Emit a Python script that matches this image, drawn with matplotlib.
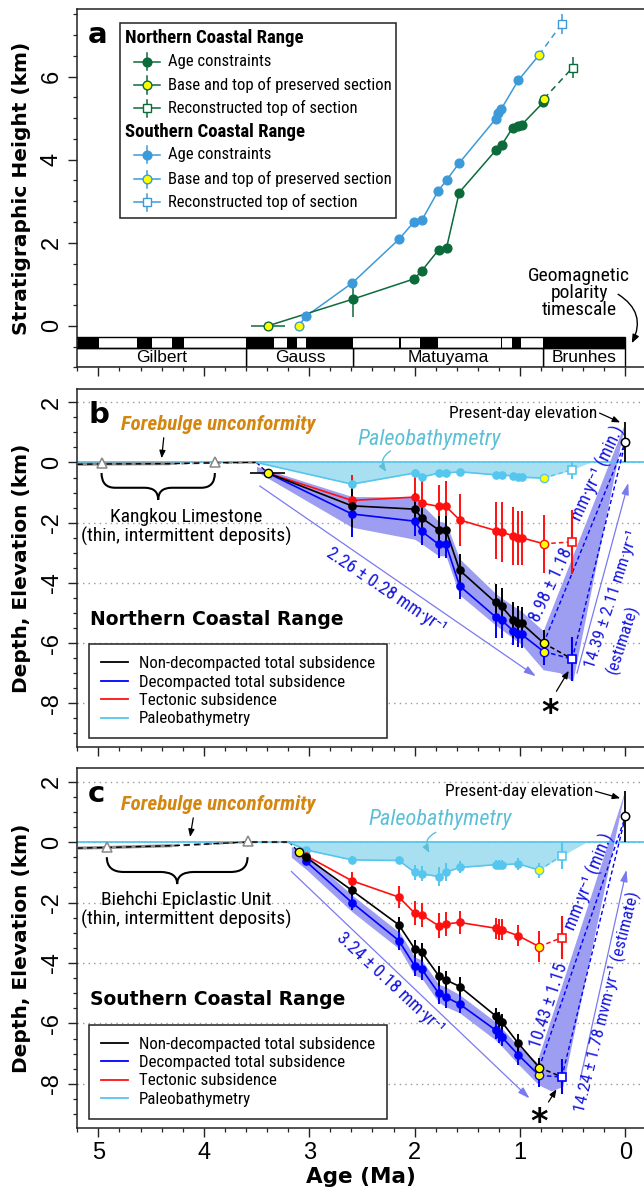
import numpy as np
import matplotlib
matplotlib.use('Agg')
import matplotlib.pyplot as plt
from matplotlib import font_manager as fm
from matplotlib.lines import Line2D
from matplotlib.patches import Rectangle, PathPatch
from matplotlib.path import Path


def pick_font(names):
    for n in names:
        try:
            fm.findfont(fm.FontProperties(family=n), fallback_to_default=False)
            return n
        except ValueError:
            pass
    return None


SANS = pick_font(['Liberation Sans']) or 'DejaVu Sans'
NARROW = pick_font(['Liberation Sans Narrow', 'Roboto Condensed', 'Open Sans Condensed'])
K = 1.0
if NARROW is None:  # no condensed face installed
    NARROW, K = SANS, 0.82
NF = [NARROW, 'DejaVu Sans']
BF = ['DejaVu Sans']

plt.rcParams['axes.unicode_minus'] = False
plt.rcParams['font.family'] = [SANS, 'DejaVu Sans']

# ---------------- panel a : stratigraphic height ----------------
ncr_age = [2.588, 2.004, 1.93, 1.772, 1.697, 1.577, 1.229, 1.175, 1.07, 1.023, 0.985, 0.78]
ncr_h = [0.64, 1.13, 1.33, 1.83, 1.88, 3.21, 4.23, 4.35, 4.77, 4.80, 4.84, 5.38]
ncr_herr = [0.42, 0, 0, 0, 0, 0, 0, 0, 0, 0, 0, 0]
ncr_ends_age = [3.39, 0.773]
ncr_ends_h = [0.0, 5.47]
ncr_base_xerr = 0.165
ncr_recon = (0.50, 6.22, 0.25)

scr_age = [3.031, 2.592, 2.146, 2.004, 1.93, 1.776, 1.697, 1.577, 1.232, 1.207, 1.181, 1.017]
scr_h = [0.23, 1.03, 2.09, 2.51, 2.55, 3.25, 3.51, 3.92, 4.98, 5.13, 5.21, 5.91]
scr_ends_age = [3.10, 0.82]
scr_ends_h = [0.0, 6.52]
scr_recon = (0.605, 7.27, 0.25)

# geomagnetic polarity timescale (normal chrons, Ma)
normal_start = [0.0, 0.988, 1.173, 1.778, 2.128, 2.581, 3.116, 3.330, 4.187, 4.493, 4.997]
normal_end = [0.781, 1.072, 1.185, 1.945, 2.148, 3.032, 3.207, 3.596, 4.300, 4.631, 5.235]
chron_names = ['Brunhes', 'Matuyama', 'Gauss', 'Gilbert']
chron_bounds = [0.0, 0.781, 2.581, 3.596, 6.033]

# ---------------- panel b : Northern Coastal Range ----------------
b_age = [2.595, 2.0, 1.934, 1.772, 1.703, 1.573, 1.232, 1.175, 1.064, 1.02, 0.985]
b_tot = [-1.44, -1.55, -1.84, -2.24, -2.24, -3.58, -4.65, -4.78, -5.23, -5.32, -5.34]
b_dec = [-1.71, -1.95, -2.28, -2.72, -2.72, -4.10, -5.13, -5.23, -5.60, -5.69, -5.71]
b_tec = [-1.26, -1.15, -1.35, -1.46, -1.46, -1.91, -2.26, -2.31, -2.44, -2.50, -2.50]
b_pb = [-0.72, -0.35, -0.49, -0.35, -0.35, -0.31, -0.41, -0.41, -0.45, -0.49, -0.49]
b_tot_err = [0.7, 0.55, 0.5, 0.45, 0.45, 0.55, 0.6, 0.6, 0.6, 0.55, 0.55]
b_dec_err = [0.75, 0.5, 0.45, 0.45, 0.45, 0.45, 0.7, 0.6, 0.45, 0.45, 0.45]
b_tec_err = [0.85, 0.72, 0.9, 0.7, 0.85, 0.85, 0.95, 1.0, 0.95, 0.9, 0.9]
b_pb_err = [0.15, 0.12, 0.12, 0.1, 0.1, 0.1, 0.1, 0.1, 0.1, 0.1, 0.1]
b_start = (3.394, -0.35, 0.165)
b_pb_zero = (3.50, 0.34)
b_top_age = 0.776
b_top = {'tot': (-6.0, 0.45), 'dec': (-6.28, 0.45), 'tec': (-2.70, 0.97), 'pb': (-0.52, 0.1)}
b_rec_age = 0.505
b_rec = {'dec': (-6.53, 0.72), 'tec': (-2.64, 1.05), 'pb': (-0.24, 0.3)}
b_present = (0.68, 0.68, 0.65)
b_env_age = [3.50, 2.595, 2.0, 1.934, 1.772, 1.703, 1.573, 1.232, 1.175, 0.985, 0.776]
b_env_top = [-0.13, -1.13, -1.15, -1.40, -1.95, -2.0, -3.2, -4.35, -4.5, -4.95, -5.6]
b_env_bot = [-0.30, -2.15, -2.55, -2.7, -3.1, -3.1, -4.4, -5.4, -5.55, -6.05, -6.9]
b_wedge_age = [0.776, 0.0, 0.495, 0.62, 0.776]
b_wedge_d = [-5.6, 1.31, -7.28, -7.0, -6.9]
b_forebulge_age = [5.2, 4.97, 4.32, 3.895, 3.5]
b_forebulge_d = [-0.06, -0.05, -0.04, -0.01, 0.0]
b_triangles = ([4.97, 3.895], [-0.02, 0.02])

# ---------------- panel c : Southern Coastal Range ----------------
c_age = [3.03, 2.595, 2.15, 2.0, 1.934, 1.772, 1.703, 1.573, 1.232, 1.197, 1.175, 1.017]
c_tot = [-0.50, -1.60, -2.74, -3.53, -3.64, -4.42, -4.56, -4.78, -5.75, -5.88, -5.94, -6.66]
c_dec = [-0.64, -2.0, -3.26, -4.09, -4.20, -5.0, -5.13, -5.36, -6.22, -6.35, -6.44, -7.04]
c_tec = [-0.45, -1.28, -1.82, -2.35, -2.41, -2.77, -2.71, -2.66, -2.85, -2.90, -2.90, -3.10]
c_pb = [-0.26, -0.59, -0.61, -1.0, -1.05, -1.14, -1.0, -0.84, -0.75, -0.75, -0.75, -0.72]
c_tot_err = [0.1, 0.2, 0.25, 0.3, 0.3, 0.33, 0.3, 0.3, 0.25, 0.25, 0.25, 0.3]
c_dec_err = [0.1, 0.25, 0.3, 0.35, 0.35, 0.35, 0.35, 0.3, 0.3, 0.3, 0.3, 0.35]
c_tec_err = [0.1, 0.3, 0.35, 0.4, 0.4, 0.42, 0.4, 0.38, 0.35, 0.35, 0.35, 0.35]
c_pb_err = [0.1, 0.12, 0.12, 0.25, 0.25, 0.3, 0.3, 0.2, 0.15, 0.15, 0.15, 0.2]
c_start = (3.10, -0.33, 0.0)
c_pb_zero = (3.20, 0.368)
c_top_age = 0.818
c_top = {'tot': (-7.46, 0.3), 'dec': (-7.72, 0.4), 'tec': (-3.46, 0.52), 'pb': (-0.93, 0.25)}
c_rec_age = 0.603
c_rec = {'dec': (-7.77, 0.58), 'tec': (-3.16, 0.72), 'pb': (-0.45, 0.45)}
c_present = (0.85, 0.85, 0.85)
c_env_age = [3.17, 3.03, 2.595, 2.14, 2.0, 1.934, 1.772, 1.703, 1.573, 1.232, 1.175, 1.017, 0.818]
c_env_top = [-0.15, -0.40, -1.75, -3.0, -3.8, -3.9, -4.7, -4.8, -5.05, -5.95, -6.15, -6.75, -7.35]
c_env_bot = [-0.5, -0.9, -2.3, -3.55, -4.4, -4.5, -5.3, -5.45, -5.65, -6.55, -6.75, -7.35, -8.05]
c_wedge_age = [0.818, 0.0, 0.59, 0.70, 0.818]
c_wedge_d = [-7.1, 1.7, -8.1, -8.25, -8.05]
c_forebulge_age = [5.2, 4.92, 4.3, 3.585, 3.19]
c_forebulge_d = [-0.2, -0.18, -0.12, 0.0, 0.0]
c_triangles = ([4.92, 3.585], [-0.17, 0.03])

# ---------------- colours ----------------
GREEN = '#0b6b3a'
SKY = '#3d9ad8'
YEL = '#ffff00'
BLK = 'black'
BLU = '#0000ff'
RED = '#ff1010'
CYAN = '#55c6ee'
PB_FILL = '#a8e0f2'
ENV = '#9d9df2'
RATE = '#1515e0'
ARROW = '#7a7af0'
ORANGE = '#d4860f'
PBTXT = '#5bbfd6'

fig = plt.figure(figsize=(6.44, 11.94), dpi=100)
L = 77.3 / 644
W = 1 - L
axA = fig.add_axes([L, 1 - 367.3 / 1194, W, 358.3 / 1194])
axB = fig.add_axes([L, 1 - 747.3 / 1194, W, 358.3 / 1194])
axC = fig.add_axes([L, 1 - 1127.7 / 1194, W, 359.4 / 1194])


def frame(ax, ylim, yticks, ylabel, show_x):
    ax.set_xlim(5.2, -0.176)
    ax.set_ylim(*ylim)
    ax.spines['right'].set_visible(False)
    for s in ['left', 'top', 'bottom']:
        ax.spines[s].set_linewidth(1.1)
        ax.spines[s].set_color('#222222')
    ax.set_xticks(range(0, 6))
    ax.set_xticks(np.arange(0, 5.21, 0.2), minor=True)
    ax.set_yticks(yticks)
    ax.set_yticks(np.arange(np.ceil(ylim[0] * 2) / 2, ylim[1], 0.5), minor=True)
    ax.tick_params(which='major', direction='out', length=6.5, width=1.0,
                   labelsize=17, pad=4, color='#222222')
    ax.tick_params(which='minor', direction='out', length=3.2, width=0.9, color='#222222')
    ax.set_yticklabels([str(t) for t in yticks])
    for t in ax.get_yticklabels():
        t.set_rotation(90)
        t.set_va('center')
        t.set_ha('right')
    if not show_x:
        ax.tick_params(axis='x', labelbottom=False)
    ax.set_ylabel(ylabel, fontsize=14.5, fontweight='bold', family=BF)
    ax.yaxis.set_label_coords(-0.0985, 0.5)
    ax.yaxis.label.set_va('center')


frame(axA, (-1.0, 7.63), [0, 2, 4, 6], 'Stratigraphic Height (km)', False)
frame(axB, (-9.46, 2.44), [2, 0, -2, -4, -6, -8], 'Depth, Elevation (km)', False)
frame(axC, (-9.45, 2.44), [2, 0, -2, -4, -6, -8], 'Depth, Elevation (km)', True)
axC.set_xlabel('Age (Ma)', fontsize=15.5, fontweight='bold', family=BF, labelpad=2)

# ---------------- panel a ----------------
BAR_TOP, BAR_MID, BAR_BOT = -0.28, -0.545, -1.0
for a0, a1 in zip(normal_start, normal_end):
    axA.add_patch(Rectangle((a0, BAR_MID), a1 - a0, BAR_TOP - BAR_MID, fc='black', ec='none', zorder=2))
axA.add_patch(Rectangle((0, BAR_MID), 5.6, BAR_TOP - BAR_MID, fill=False, ec='black', lw=1.0, zorder=3))
for name, b0, b1 in zip(chron_names, chron_bounds[:-1], chron_bounds[1:]):
    axA.add_patch(Rectangle((b0, BAR_BOT), b1 - b0, BAR_MID - BAR_BOT, fc='white', ec='black', lw=1.0, zorder=2))
    xc = (b0 + min(b1, 5.2)) / 2
    axA.text(xc, (BAR_MID + BAR_BOT) / 2, name, ha='center', va='center', fontsize=12.5, family=[SANS])


def strat_series(ax, age, h, herr, ends_age, ends_h, recon, col, base_xerr=None):
    ax.plot([ends_age[0]] + age + [ends_age[1]], [ends_h[0]] + h + [ends_h[1]], color=col, lw=1.1, zorder=3)
    ax.plot([ends_age[1], recon[0]], [ends_h[1], recon[1]], color=col, lw=1.1, ls=(0, (4, 3)), zorder=3)
    ax.errorbar(age, h, yerr=herr, fmt='o', color=col, ms=6.3, elinewidth=1.1, capsize=0, zorder=4)
    ax.errorbar(ends_age, ends_h, xerr=[base_xerr or 0, 0], fmt='o', mfc=YEL, mec=col, ecolor=col,
                ms=6.3, mew=1.0, elinewidth=1.1, capsize=0, zorder=5)
    ax.errorbar([recon[0]], [recon[1]], yerr=[recon[2]], fmt='s', mfc='white', mec=col, ecolor=col,
                ms=6.3, mew=1.0, elinewidth=1.1, capsize=0, zorder=5)


strat_series(axA, scr_age, scr_h, [0] * len(scr_age), scr_ends_age, scr_ends_h, scr_recon, SKY)
strat_series(axA, ncr_age, ncr_h, ncr_herr, ncr_ends_age, ncr_ends_h, ncr_recon, GREEN, ncr_base_xerr)

# manual legend for panel a (two headed groups)
T = axA.transAxes
axA.add_patch(Rectangle((0.0759, 0.416), 0.4856, 0.544, transform=T, fc='white', ec='#222222', lw=1.1, zorder=6))
rows = [('Northern Coastal Range', None, None), ('Age constraints', GREEN, 'fill'),
        ('Base and top of preserved section', GREEN, 'yel'), ('Reconstructed top of section', GREEN, 'sq'),
        ('Southern Coastal Range', None, None), ('Age constraints', SKY, 'fill'),
        ('Base and top of preserved section', SKY, 'yel'), ('Reconstructed top of section', SKY, 'sq')]
rows_y = [0.918, 0.853, 0.788, 0.723, 0.656, 0.593, 0.525, 0.461]
for (lab, col, kind), y in zip(rows, rows_y):
    if col is None:
        axA.text(0.0833, y, lab, transform=T, ha='left', va='center', fontsize=13.5 * K,
                 fontweight='bold', family=NF, zorder=7)
        continue
    axA.plot([0.0992, 0.1463], [y, y], transform=T, color=col, lw=1.1, zorder=7)
    axA.plot([0.1223, 0.1223], [y - 0.024, y + 0.024], transform=T, color=col, lw=1.1, zorder=7)
    mk = {'fill': dict(marker='o', mfc=col), 'yel': dict(marker='o', mfc=YEL),
          'sq': dict(marker='s', mfc='white')}[kind]
    axA.plot([0.1223], [y], transform=T, ls='none', mec=col, ms=6.3, mew=1.0, zorder=8, **mk)
    axA.text(0.1607, y, lab, transform=T, ha='left', va='center', fontsize=12 * K, family=NF, zorder=7)

axA.text(0.44, 0.79, 'Geomagnetic\npolarity\ntimescale', ha='center', va='center', fontsize=14 * K,
         family=NF, linespacing=0.95)
axA.annotate('', xy=(-0.06, -0.42), xytext=(0.07, 0.76),
             arrowprops=dict(arrowstyle='-|>,head_length=0.5,head_width=0.2', color='black', lw=1.0,
                             connectionstyle='arc3,rad=-0.45', shrinkA=0, shrinkB=0))
axA.text(0.019, 0.906, 'a', transform=T, fontsize=21, fontweight='bold', family=BF, va='baseline')


# ---------------- panels b, c ----------------
def brace(ax, x0, x1, ytop, ymid, ytip):
    xm = (x0 + x1) / 2
    s = (x1 - x0) * 0.12
    verts = [(x0, ytop), (x0, ymid), (x0 + s, ymid), (xm - s, ymid), (xm, ymid), (xm, ytip),
             (xm, ymid), (xm + s, ymid), (x1 - s, ymid), (x1, ymid), (x1, ytop)]
    codes = [Path.MOVETO, Path.CURVE3, Path.CURVE3, Path.LINETO, Path.CURVE3, Path.CURVE3,
             Path.CURVE3, Path.CURVE3, Path.LINETO, Path.CURVE3, Path.CURVE3]
    ax.add_patch(PathPatch(Path(verts, codes), fill=False, ec='black', lw=1.5, zorder=4))


def subsidence(ax, age, tot, dec, tec, pb, tot_err, dec_err, tec_err, pb_err, start, pb_zero,
               top_age, top, rec_age, rec, present, env_age, env_top, env_bot, wedge_age, wedge_d,
               fb_age, fb_d, tri):
    ax.yaxis.grid(True, which='major', ls=(0, (1, 3)), color='#9a9a9a', lw=1.0, zorder=0)
    ax.set_axisbelow(True)
    # paleobathymetry fill
    fa = [pb_zero[0]] + age + [top_age, rec_age, pb_zero[1]]
    fd = [0] + pb + [top['pb'][0], rec['pb'][0], 0]
    ax.fill_between(fa, 0, fd, color=PB_FILL, lw=0, zorder=1)
    ax.fill_between(env_age, env_top, env_bot, color=ENV, lw=0, zorder=1)
    ax.fill(wedge_age, wedge_d, color=ENV, lw=0, zorder=1)
    ax.axhline(0, color=CYAN, lw=1.3, zorder=2)
    # forebulge unconformity
    ax.plot(fb_age[:3], fb_d[:3], color='#8a8a8a', lw=2.2, zorder=3, solid_capstyle='butt')
    ax.plot(fb_age[2:], fb_d[2:], color='#8a8a8a', lw=1.6, ls=(0, (3, 2)), zorder=3)
    ax.plot(fb_age, fb_d, color='black', lw=1.0, ls=(0, (4, 3)), zorder=3)
    ax.plot(tri[0], tri[1], '^', mfc='white', mec='#888888', ms=7.5, mew=1.1, zorder=4)
    ax.plot([fb_age[-1], start[0]], [fb_d[-1], start[1]], color='#000080', lw=1.0, ls=(0, (3, 2)), zorder=3)
    brace(ax, tri[0][0], tri[0][1], tri[1][0] - 0.33, tri[1][0] - 0.82, tri[1][0] - 1.22)
    # series
    for vals, err, col, key in [(pb, pb_err, CYAN, 'pb'), (tec, tec_err, RED, 'tec'),
                                (dec, dec_err, BLU, 'dec'), (tot, tot_err, BLK, 'tot')]:
        x0 = pb_zero[0] if key == 'pb' else start[0]
        y0 = 0 if key == 'pb' else start[1]
        ax.plot([x0] + age + [top_age], [y0] + vals + [top[key][0]], color=col, lw=1.2, zorder=4)
        ax.errorbar(age, vals, yerr=err, fmt='o', color=col, ms=5.2, elinewidth=1.4, capsize=0, zorder=5)
        rk = 'dec' if key == 'tot' else key
        ax.plot([top_age, rec_age], [top[key][0], rec[rk][0]], color=col, lw=1.1, ls=(0, (3, 2)), zorder=4)
    for key, col in [('pb', CYAN), ('tec', RED), ('dec', BLU)]:
        ax.errorbar([rec_age], [rec[key][0]], yerr=[rec[key][1]], fmt='s', mfc='white', mec=col,
                    ecolor=col, ms=6, mew=1.2, elinewidth=1.5, capsize=0, zorder=6)
    for key, col in [('pb', CYAN), ('tec', RED), ('dec', BLU), ('tot', BLK)]:
        ax.errorbar([top_age], [top[key][0]], yerr=[top[key][1]], fmt='o', mfc=YEL, mec=col,
                    ecolor=col, ms=6, mew=1.0, elinewidth=1.4, capsize=0, zorder=6)
    ax.errorbar([start[0]], [start[1]], xerr=[start[2]], yerr=[0.1], fmt='o', mfc=YEL, mec=BLK,
                ecolor=BLK, ms=6, mew=1.0, elinewidth=1.2, capsize=0, zorder=6)
    # uplift to present-day elevation
    for a, d in [(top_age, top['tot'][0]), (rec_age, rec['dec'][0])]:
        ax.plot([a, 0], [d, present[0]], color=BLU, lw=1.0, ls=(0, (3, 2)), zorder=4)
    ax.errorbar([0], [present[0]], yerr=[[present[1]], [present[2]]], fmt='o', mfc='white', mec=BLK,
                ecolor=BLK, ms=6, mew=1.1, elinewidth=1.3, capsize=0, zorder=6)
    handles = [Line2D([], [], color=c, lw=1.3) for c in [BLK, BLU, RED, CYAN]]
    labels = ['Non-decompacted total subsidence', 'Decompacted total subsidence',
              'Tectonic subsidence', 'Paleobathymetry']
    leg = ax.legend(handles, labels, loc='lower left', bbox_to_anchor=(0.0215, 0.025), borderaxespad=0,
                    frameon=True, fancybox=False, edgecolor='#222222', framealpha=1,
                    prop=fm.FontProperties(family=NF, size=12.2 * K), handlelength=1.6,
                    handletextpad=0.6, borderpad=0.7, labelspacing=0.2)
    leg.get_frame().set_linewidth(1.1)
    leg.set_zorder(8)


subsidence(axB, b_age, b_tot, b_dec, b_tec, b_pb, b_tot_err, b_dec_err, b_tec_err, b_pb_err, b_start,
           b_pb_zero, b_top_age, b_top, b_rec_age, b_rec, b_present, b_env_age, b_env_top, b_env_bot,
           b_wedge_age, b_wedge_d, b_forebulge_age, b_forebulge_d, b_triangles)
subsidence(axC, c_age, c_tot, c_dec, c_tec, c_pb, c_tot_err, c_dec_err, c_tec_err, c_pb_err, c_start,
           c_pb_zero, c_top_age, c_top, c_rec_age, c_rec, c_present, c_env_age, c_env_top, c_env_bot,
           c_wedge_age, c_wedge_d, c_forebulge_age, c_forebulge_d, c_triangles)

small_arrow = dict(arrowstyle='-|>,head_length=0.45,head_width=0.18', color='black', lw=0.9,
                   shrinkA=0, shrinkB=0)
rate_arrow = dict(arrowstyle='-|>,head_length=0.7,head_width=0.22', color=ARROW, lw=0.9,
                  shrinkA=0, shrinkB=0)
pb_arrow = dict(arrowstyle='-|>,head_length=0.45,head_width=0.18', color=PBTXT, lw=1.0,
                shrinkA=0, shrinkB=0, connectionstyle='arc3,rad=0.5')


def labels(ax, letter, range_name, unit, fb_xy, fb_arrow, pb_xy, pb_arr, unit_xy, pres_xy, pres_arr,
           star_xy, star_arr):
    ax.text(0.019, 0.906, letter, transform=ax.transAxes, fontsize=21, fontweight='bold', family=BF,
            va='baseline')
    ax.text(fb_xy[0], fb_xy[1], 'Forebulge unconformity', ha='center', va='center', color=ORANGE,
            fontsize=15 * K, fontweight='bold', style='italic', family=NF)
    ax.annotate('', xy=fb_arrow[1], xytext=fb_arrow[0], arrowprops=small_arrow)
    ax.text(pb_xy[0], pb_xy[1], 'Paleobathymetry', ha='center', va='center', color=PBTXT,
            fontsize=16 * K, style='italic', family=NF)
    ax.annotate('', xy=pb_arr[1], xytext=pb_arr[0], arrowprops=pb_arrow)
    ax.text(unit_xy[0], unit_xy[1], unit, ha='center', va='center', fontsize=14 * K, family=NF,
            linespacing=1.05)
    ax.text(pres_xy[0], pres_xy[1], 'Present-day elevation', ha='right', va='center', fontsize=12.5 * K,
            family=NF)
    ax.annotate('', xy=pres_arr[1], xytext=pres_arr[0], arrowprops=small_arrow)
    ax.text(0.023, 0.358, range_name, transform=ax.transAxes, ha='left', va='center', fontsize=13.5,
            fontweight='bold', family=BF)
    ax.text(star_xy[0], star_xy[1], '*', ha='center', va='center', fontsize=24, fontweight='bold',
            family=BF)
    ax.annotate('', xy=star_arr[1], xytext=star_arr[0], arrowprops=small_arrow)


labels(axB, 'b', 'Northern Coastal Range', 'Kangkou Limestone\n(thin, intermittent deposits)',
       (3.86, 1.25), ((4.38, 0.82), (4.40, 0.14)), (1.865, 0.75), ((2.23, 0.38), (2.27, -0.31)),
       (4.165, -2.15), (0.266, 1.64), ((0.246, 1.64), (0.05, 1.33)), (0.716, -8.35),
       ((0.655, -7.6), (0.538, -6.92)))
labels(axC, 'c', 'Southern Coastal Range', 'Biehchi Epiclastic Unit\n(thin, intermittent deposits)',
       (3.86, 1.24), ((4.10, 0.80), (4.13, 0.17)), (1.76, 0.74), ((1.80, 0.32), (1.86, -0.36)),
       (4.17, -2.26), (0.305, 1.68), ((0.285, 1.68), (0.05, 1.45)), (0.82, -9.28),
       ((0.73, -8.6), (0.655, -8.18)))

# rate annotations, panel b
axB.annotate('', xy=(0.85, -7.1), xytext=(3.47, -0.78), arrowprops=rate_arrow)
axB.text(2.27, -4.27, '2.26 ± 0.28 mm·yr⁻¹', rotation=-34, rotation_mode='anchor', ha='center',
         va='center', color=RATE, fontsize=13 * K, family=NF)
axB.text(0.70, -4.07, '8.98 ± 1.18', rotation=65, rotation_mode='anchor', ha='center', va='center',
         color=RATE, fontsize=13 * K, family=NF)
axB.text(0.26, -0.35, 'mm·yr⁻¹ (min.)', rotation=65, rotation_mode='anchor', ha='center', va='center',
         color=RATE, fontsize=13 * K, family=NF)
axB.annotate('', xy=(-0.027, -0.68), xytext=(0.46, -7.0), arrowprops=rate_arrow)
axB.text(0.125, -4.54, '14.39 ± 2.11 mm·yr⁻¹', rotation=72, rotation_mode='anchor', ha='center',
         va='center', color=RATE, fontsize=12.5 * K, family=NF)
axB.text(0.03, -5.86, '(estimate)', rotation=72, rotation_mode='anchor', ha='center', va='center',
         color=RATE, fontsize=12.5 * K, family=NF)

# rate annotations, panel c
axC.annotate('', xy=(0.91, -8.48), xytext=(3.17, -0.97), arrowprops=rate_arrow)
axC.text(2.23, -4.66, '3.24 ± 0.18 mm·yr⁻¹', rotation=-43, rotation_mode='anchor', ha='center',
         va='center', color=RATE, fontsize=13 * K, family=NF)
axC.text(0.73, -5.4, '10.43 ± 1.15', rotation=72, rotation_mode='anchor', ha='center', va='center',
         color=RATE, fontsize=13 * K, family=NF)
axC.text(0.34, -1.3, 'mm·yr⁻¹ (min.)', rotation=68, rotation_mode='anchor', ha='center', va='center',
         color=RATE, fontsize=13 * K, family=NF)
axC.annotate('', xy=(-0.01, -0.92), xytext=(0.43, -7.87), arrowprops=rate_arrow)
axC.text(0.17, -5.3, '14.24 ± 1.78 mvm·yr⁻¹ (estimate)', rotation=76, rotation_mode='anchor',
         ha='center', va='center', color=RATE, fontsize=12.5 * K, family=NF)

fig.savefig('out.png', dpi=100)
